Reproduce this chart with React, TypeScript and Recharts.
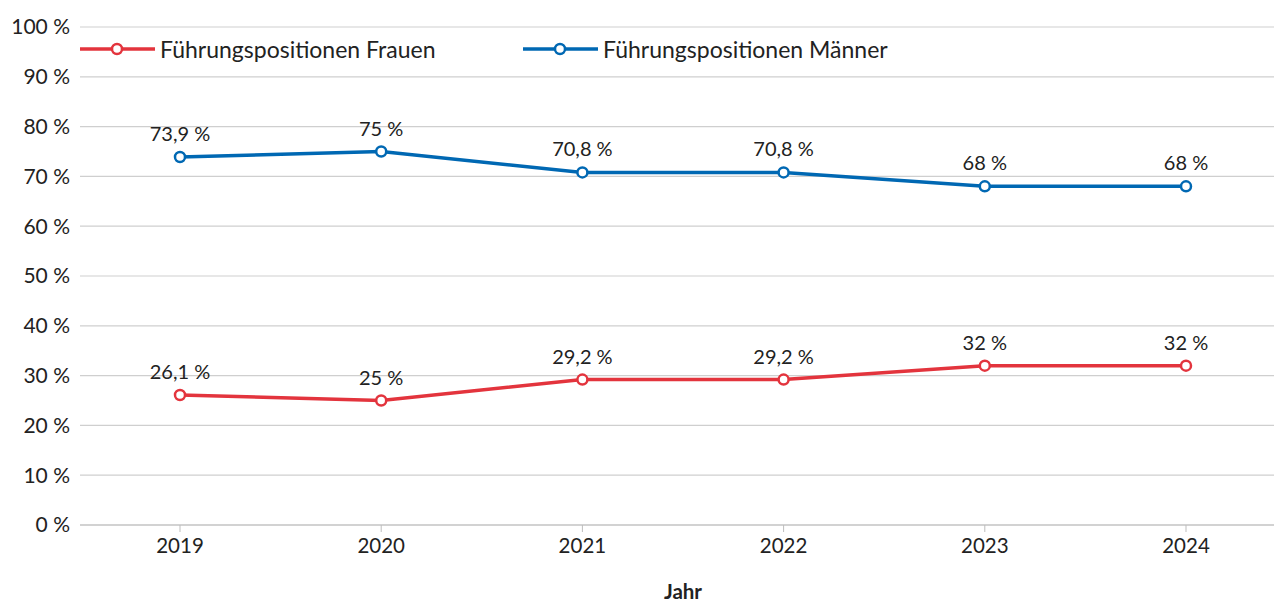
import React from "react";
import { LineChart, Line, XAxis, YAxis, CartesianGrid, Legend, LabelList } from "recharts";

const years = ["2019", "2020", "2021", "2022", "2023", "2024"];
const frauen = [26.1, 25, 29.2, 29.2, 32, 32];
const maenner = [73.9, 75, 70.8, 70.8, 68, 68];
const yTicks = [0, 10, 20, 30, 40, 50, 60, 70, 80, 90, 100];

const RED = "#e3343d";
const BLUE = "#0068b3";
const FONT = "Lato, 'Noto Sans', sans-serif";

const data = years.map((y, i) => ({ year: y, frauen: frauen[i], maenner: maenner[i] }));

const fmt = (v: number) => `${String(v).replace(".", ",")} %`;

const LegendContent = () => {
  const items = [
    { name: "Führungspositionen Frauen", color: RED, width: 443 },
    { name: "Führungspositionen Männer", color: BLUE, width: 400 },
  ];
  return (
    <div style={{ display: "flex", fontFamily: FONT, fontSize: 23, color: "#222" }}>
      {items.map((it) => (
        <div key={it.name} style={{ display: "flex", alignItems: "center", width: it.width }}>
          <svg width={80} height={14} style={{ flex: "none" }}>
            <line x1={0} y1={7} x2={75} y2={7} stroke={it.color} strokeWidth={3.5} />
            <circle cx={37} cy={7} r={5} fill="#fff" stroke={it.color} strokeWidth={2.5} />
          </svg>
          <span>{it.name}</span>
        </div>
      ))}
    </div>
  );
};

export default function App() {
  return (
    <div style={{ position: "absolute", left: 0, top: 0, width: 1274, height: 603, overflow: "hidden", background: "#fff" }}>
      <LineChart width={1286} height={603} data={data} margin={{ top: 27, right: 0, bottom: 0, left: 0 }}>
        <CartesianGrid vertical={false} stroke="#cfcfcf" strokeWidth={1.2} />
        <XAxis
          dataKey="year"
          height={78}
          padding={{ left: 100, right: 100 }}
          tickSize={7}
          tickMargin={6}
          stroke="#bdbdbd"
          tick={{ fill: "#222", fontSize: 20.5, fontFamily: FONT }}
          label={{ value: "Jahr", position: "insideBottom", offset: 4, fill: "#222", fontSize: 20.5, fontWeight: 700, fontFamily: FONT }}
        />
        <YAxis
          domain={[0, 100]}
          ticks={yTicks}
          width={80}
          axisLine={false}
          tickLine={false}
          tickSize={0}
          tickMargin={10}
          tickFormatter={(v: number) => `${v} %`}
          tick={{ fill: "#222", fontSize: 21, fontFamily: FONT }}
          interval={0}
        />
        <Legend
          layout="horizontal"
          verticalAlign="middle"
          align="center"
          wrapperStyle={{ top: 35, left: 80, width: 900 }}
          content={<LegendContent />}
        />
        <Line
          dataKey="frauen"
          name="Führungspositionen Frauen"
          stroke={RED}
          strokeWidth={3.5}
          dot={{ r: 5, fill: "#fff", stroke: RED, strokeWidth: 2.5 }}
          isAnimationActive={false}
        >
          <LabelList dataKey="frauen" position="top" offset={16} formatter={(v: any) => fmt(v)} style={{ fill: "#222", fontSize: 20, fontFamily: FONT }} />
        </Line>
        <Line
          dataKey="maenner"
          name="Führungspositionen Männer"
          stroke={BLUE}
          strokeWidth={3.5}
          dot={{ r: 5, fill: "#fff", stroke: BLUE, strokeWidth: 2.5 }}
          isAnimationActive={false}
        >
          <LabelList dataKey="maenner" position="top" offset={16} formatter={(v: any) => fmt(v)} style={{ fill: "#222", fontSize: 20, fontFamily: FONT }} />
        </Line>
      </LineChart>
    </div>
  );
}
